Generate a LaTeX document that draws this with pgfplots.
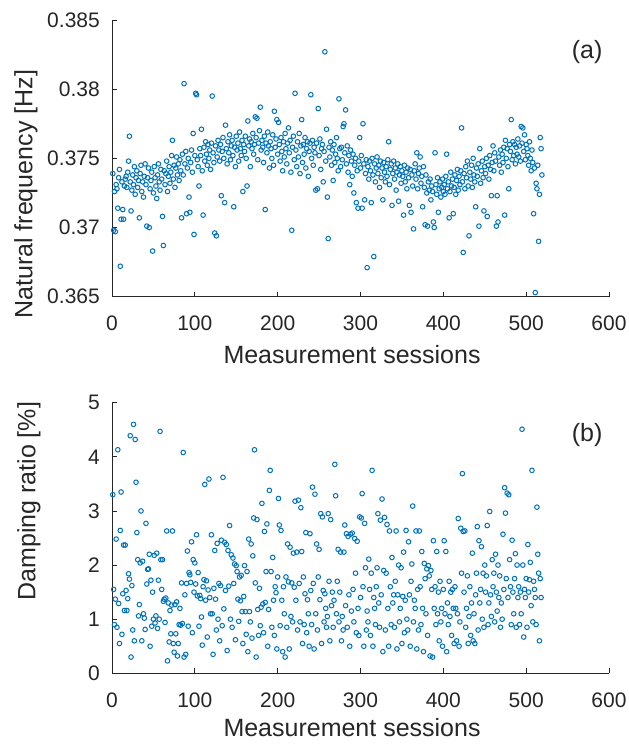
\documentclass[border=0pt]{standalone}
\usepackage{pgfplots}
\pgfplotsset{compat=1.18}
\usepackage{fontspec}
\setmainfont{Liberation Sans}
\definecolor{mblue}{rgb}{0,0.447,0.741}
\definecolor{axgray}{rgb}{0.15,0.15,0.15}
\pgfplotsset{
  mystyle/.style={
    scale only axis,
    width=497bp,
    axis x line*=bottom, axis y line*=left,
    axis line style={-, axgray, line width=0.8bp},
    tick style={axgray, line width=0.8bp},
    tick align=inside,
    major tick length=5bp,
    xmin=0, xmax=600, xtick={0,100,200,300,400,500,600},
    /pgf/number format/assume math mode=true,
    tick label style={font=\fontsize{21bp}{24bp}\selectfont, text=axgray},
    label style={font=\fontsize{25bp}{28bp}\selectfont, text=axgray},
    xticklabel style={anchor=base, inner sep=0pt, yshift=-34bp},
    yticklabel style={anchor=east, inner sep=0pt, xshift=-12bp},
    scaled y ticks=false,
    clip=false,
  },
  mymarks/.style={only marks, mark=o, mark size=2.3bp, mark options={line width=1bp, draw=mblue}, draw=mblue},
}
\begin{document}
\begin{tikzpicture}
\useasboundingbox (0bp,0bp) rectangle (629bp,744bp);
% ---------- (a) natural frequency ----------
\begin{axis}[mystyle,
  at={(112bp,447.3bp)}, anchor=south west, height=276.7bp,
  ymin=0.365, ymax=0.385,
  ytick={0.365,0.37,0.375,0.38,0.385},
  yticklabels={0.365,0.37,0.375,0.38,0.385},
  xlabel={Measurement sessions},
  ylabel={Natural frequency [Hz]},
  xlabel style={at={(axis description cs:0.483,0)}, anchor=base, yshift=-67bp},
  ylabel style={at={(axis description cs:-0.173,0.37)}, anchor=center, rotate=0},
]
\addplot[mymarks] table[x expr=\coordindex+1, y index=0, header=false, row sep=\\] {
0.3739\\ 0.3698\\ 0.3726\\ 0.3697\\ 0.3731\\ 0.3728\\ 0.3714\\ 0.3736\\ 0.3742\\ 0.3672\\
0.3706\\ 0.3733\\ 0.3713\\ 0.3706\\ 0.3730\\ 0.3735\\ 0.3737\\ 0.3729\\ 0.3740\\ 0.3748\\
0.3766\\ 0.3733\\ 0.3712\\ 0.3727\\ 0.3738\\ 0.3731\\ 0.3744\\ 0.3724\\ 0.3736\\ 0.3741\\
0.3729\\ 0.3734\\ 0.3707\\ 0.3739\\ 0.3745\\ 0.3726\\ 0.3733\\ 0.3722\\ 0.3737\\ 0.3746\\
0.3731\\ 0.3701\\ 0.3736\\ 0.3743\\ 0.3700\\ 0.3728\\ 0.3734\\ 0.3740\\ 0.3683\\ 0.3725\\
0.3744\\ 0.3736\\ 0.3730\\ 0.3721\\ 0.3738\\ 0.3746\\ 0.3733\\ 0.3727\\ 0.3742\\ 0.3735\\
0.3708\\ 0.3687\\ 0.3741\\ 0.3731\\ 0.3739\\ 0.3748\\ 0.3726\\ 0.3737\\ 0.3744\\ 0.3732\\
0.3740\\ 0.3752\\ 0.3763\\ 0.3735\\ 0.3745\\ 0.3729\\ 0.3743\\ 0.3751\\ 0.3738\\ 0.3746\\
0.3734\\ 0.3749\\ 0.3741\\ 0.3707\\ 0.3753\\ 0.3738\\ 0.3804\\ 0.3746\\ 0.3755\\ 0.3710\\
0.3743\\ 0.3750\\ 0.3722\\ 0.3711\\ 0.3747\\ 0.3756\\ 0.3740\\ 0.3768\\ 0.3695\\ 0.3752\\
0.3797\\ 0.3796\\ 0.3749\\ 0.3744\\ 0.3730\\ 0.3757\\ 0.3752\\ 0.3771\\ 0.3741\\ 0.3709\\
0.3758\\ 0.3748\\ 0.3762\\ 0.3753\\ 0.3745\\ 0.3760\\ 0.3750\\ 0.3756\\ 0.3742\\ 0.3761\\
0.3795\\ 0.3754\\ 0.3747\\ 0.3696\\ 0.3759\\ 0.3694\\ 0.3751\\ 0.3763\\ 0.3756\\ 0.3748\\
0.3760\\ 0.3723\\ 0.3755\\ 0.3765\\ 0.3750\\ 0.3718\\ 0.3774\\ 0.3757\\ 0.3746\\ 0.3762\\
0.3754\\ 0.3767\\ 0.3749\\ 0.3759\\ 0.3763\\ 0.3752\\ 0.3715\\ 0.3758\\ 0.3744\\ 0.3766\\
0.3756\\ 0.3761\\ 0.3748\\ 0.3769\\ 0.3757\\ 0.3752\\ 0.3763\\ 0.3726\\ 0.3760\\ 0.3755\\
0.3766\\ 0.3750\\ 0.3730\\ 0.3777\\ 0.3759\\ 0.3764\\ 0.3744\\ 0.3762\\ 0.3757\\ 0.3768\\
0.3753\\ 0.3760\\ 0.3780\\ 0.3765\\ 0.3779\\ 0.3749\\ 0.3761\\ 0.3770\\ 0.3787\\ 0.3756\\
0.3763\\ 0.3758\\ 0.3747\\ 0.3766\\ 0.3713\\ 0.3761\\ 0.3754\\ 0.3769\\ 0.3759\\ 0.3743\\
0.3762\\ 0.3757\\ 0.3750\\ 0.3767\\ 0.3745\\ 0.3784\\ 0.3758\\ 0.3764\\ 0.3778\\ 0.3753\\
0.3776\\ 0.3760\\ 0.3748\\ 0.3765\\ 0.3755\\ 0.3741\\ 0.3762\\ 0.3751\\ 0.3768\\ 0.3757\\
0.3746\\ 0.3761\\ 0.3772\\ 0.3754\\ 0.3763\\ 0.3740\\ 0.3698\\ 0.3758\\ 0.3766\\ 0.3749\\
0.3797\\ 0.3756\\ 0.3744\\ 0.3762\\ 0.3751\\ 0.3768\\ 0.3739\\ 0.3759\\ 0.3778\\ 0.3747\\
0.3760\\ 0.3753\\ 0.3765\\ 0.3743\\ 0.3757\\ 0.3762\\ 0.3737\\ 0.3755\\ 0.3761\\ 0.3796\\
0.3750\\ 0.3763\\ 0.3745\\ 0.3758\\ 0.3754\\ 0.3727\\ 0.3761\\ 0.3728\\ 0.3786\\ 0.3752\\
0.3764\\ 0.3742\\ 0.3757\\ 0.3760\\ 0.3733\\ 0.3755\\ 0.3827\\ 0.3748\\ 0.3771\\ 0.3722\\
0.3692\\ 0.3758\\ 0.3751\\ 0.3762\\ 0.3745\\ 0.3756\\ 0.3734\\ 0.3760\\ 0.3747\\ 0.3753\\
0.3765\\ 0.3750\\ 0.3741\\ 0.3793\\ 0.3757\\ 0.3744\\ 0.3758\\ 0.3749\\ 0.3773\\ 0.3775\\
0.3754\\ 0.3785\\ 0.3746\\ 0.3759\\ 0.3740\\ 0.3752\\ 0.3731\\ 0.3756\\ 0.3748\\ 0.3737\\
0.3753\\ 0.3725\\ 0.3745\\ 0.3750\\ 0.3718\\ 0.3741\\ 0.3714\\ 0.3748\\ 0.3765\\ 0.3743\\
0.3752\\ 0.3714\\ 0.3775\\ 0.3746\\ 0.3720\\ 0.3739\\ 0.3749\\ 0.3671\\ 0.3744\\ 0.3735\\
0.3748\\ 0.3741\\ 0.3718\\ 0.3750\\ 0.3738\\ 0.3679\\ 0.3746\\ 0.3733\\ 0.3743\\ 0.3751\\
0.3739\\ 0.3745\\ 0.3729\\ 0.3748\\ 0.3736\\ 0.3743\\ 0.3720\\ 0.3747\\ 0.3740\\ 0.3733\\
0.3744\\ 0.3737\\ 0.3749\\ 0.3762\\ 0.3731\\ 0.3742\\ 0.3746\\ 0.3716\\ 0.3739\\ 0.3748\\
0.3735\\ 0.3743\\ 0.3727\\ 0.3740\\ 0.3746\\ 0.3719\\ 0.3738\\ 0.3744\\ 0.3732\\ 0.3741\\
0.3737\\ 0.3709\\ 0.3745\\ 0.3733\\ 0.3740\\ 0.3728\\ 0.3743\\ 0.3736\\ 0.3716\\ 0.3742\\
0.3711\\ 0.3738\\ 0.3730\\ 0.3699\\ 0.3741\\ 0.3746\\ 0.3735\\ 0.3754\\ 0.3728\\ 0.3739\\
0.3743\\ 0.3751\\ 0.3732\\ 0.3737\\ 0.3715\\ 0.3744\\ 0.3729\\ 0.3702\\ 0.3738\\ 0.3725\\
0.3701\\ 0.3733\\ 0.3727\\ 0.3735\\ 0.3720\\ 0.3730\\ 0.3726\\ 0.3704\\ 0.3700\\ 0.3754\\
0.3731\\ 0.3724\\ 0.3736\\ 0.3711\\ 0.3728\\ 0.3733\\ 0.3722\\ 0.3729\\ 0.3735\\ 0.3726\\
0.3731\\ 0.3724\\ 0.3737\\ 0.3753\\ 0.3728\\ 0.3733\\ 0.3707\\ 0.3726\\ 0.3740\\ 0.3730\\
0.3735\\ 0.3710\\ 0.3729\\ 0.3738\\ 0.3724\\ 0.3734\\ 0.3742\\ 0.3727\\ 0.3737\\ 0.3731\\
0.3741\\ 0.3772\\ 0.3733\\ 0.3682\\ 0.3739\\ 0.3728\\ 0.3744\\ 0.3736\\ 0.3748\\ 0.3730\\
0.3694\\ 0.3740\\ 0.3735\\ 0.3745\\ 0.3729\\ 0.3750\\ 0.3738\\ 0.3733\\ 0.3715\\ 0.3743\\
0.3737\\ 0.3746\\ 0.3701\\ 0.3757\\ 0.3732\\ 0.3741\\ 0.3748\\ 0.3736\\ 0.3712\\ 0.3744\\
0.3739\\ 0.3750\\ 0.3708\\ 0.3745\\ 0.3735\\ 0.3752\\ 0.3742\\ 0.3723\\ 0.3747\\ 0.3759\\
0.3741\\ 0.3754\\ 0.3748\\ 0.3701\\ 0.3723\\ 0.3704\\ 0.3751\\ 0.3745\\ 0.3756\\ 0.3740\\
0.3753\\ 0.3747\\ 0.3758\\ 0.3709\\ 0.3763\\ 0.3750\\ 0.3757\\ 0.3744\\ 0.3728\\ 0.3760\\
0.3755\\ 0.3778\\ 0.3749\\ 0.3762\\ 0.3752\\ 0.3760\\ 0.3746\\ 0.3758\\ 0.3753\\ 0.3764\\
0.3751\\ 0.3759\\ 0.3748\\ 0.3773\\ 0.3761\\ 0.3772\\ 0.3755\\ 0.3767\\ 0.3749\\ 0.3760\\
0.3757\\ 0.3752\\ 0.3745\\ 0.3762\\ 0.3750\\ 0.3741\\ 0.3756\\ 0.3747\\ 0.3710\\ 0.3743\\
0.3653\\ 0.3732\\ 0.3728\\ 0.3745\\ 0.3690\\ 0.3724\\ 0.3765\\ 0.3757\\ 0.3738\\
};
\node[font=\fontsize{25bp}{28bp}\selectfont, text=axgray] at (axis description cs:0.956,0.884) {(a)};
\end{axis}
% ---------- (b) damping ratio ----------
\begin{axis}[mystyle,
  at={(112bp,70.7bp)}, anchor=south west, height=270.6bp,
  ymin=0, ymax=5,
  ytick={0,1,2,3,4,5},
  xlabel={Measurement sessions},
  ylabel={Damping ratio [\%]},
  xlabel style={at={(axis description cs:0.483,0)}, anchor=base, yshift=-63bp},
  ylabel style={at={(axis description cs:-0.167,0.636)}, anchor=center, rotate=0},
]
\addplot[mymarks] table[x expr=\coordindex+1, y index=0, header=false, row sep=\\] {
3.30\\ 1.55\\ 0.90\\ 1.37\\ 2.48\\ 0.85\\ 4.13\\ 1.29\\ 0.55\\ 2.64\\
3.35\\ 0.72\\ 1.47\\ 2.37\\ 1.16\\ 2.37\\ 1.53\\ 1.16\\ 1.38\\ 1.84\\
1.74\\ 4.39\\ 0.30\\ 1.62\\ 0.80\\ 4.60\\ 0.60\\ 4.32\\ 3.53\\ 2.60\\
2.10\\ 1.06\\ 1.27\\ 2.04\\ 3.00\\ 0.60\\ 2.07\\ 1.10\\ 1.02\\ 0.81\\
2.77\\ 1.65\\ 1.92\\ 1.93\\ 2.20\\ 0.50\\ 1.72\\ 0.87\\ 1.50\\ 1.00\\
2.18\\ 0.93\\ 1.06\\ 2.22\\ 0.83\\ 1.72\\ 1.00\\ 4.47\\ 2.10\\ 1.55\\
2.10\\ 1.33\\ 1.37\\ 0.94\\ 1.39\\ 2.63\\ 0.23\\ 1.30\\ 0.58\\ 1.16\\
0.73\\ 1.26\\ 2.63\\ 0.55\\ 0.39\\ 1.27\\ 0.73\\ 1.32\\ 0.32\\ 0.55\\
0.90\\ 1.20\\ 0.89\\ 1.67\\ 0.92\\ 4.08\\ 0.30\\ 1.45\\ 0.35\\ 1.66\\
2.26\\ 0.87\\ 1.86\\ 1.82\\ 1.68\\ 2.43\\ 0.75\\ 2.10\\ 1.50\\ 2.04\\
1.65\\ 2.56\\ 1.43\\ 1.86\\ 0.87\\ 1.44\\ 1.38\\ 1.04\\ 0.52\\ 1.60\\
1.73\\ 3.49\\ 1.35\\ 1.71\\ 0.67\\ 1.54\\ 3.59\\ 1.40\\ 1.10\\ 2.56\\
1.10\\ 0.35\\ 1.57\\ 2.27\\ 1.37\\ 0.80\\ 2.40\\ 1.00\\ 1.66\\ 0.60\\
1.62\\ 2.46\\ 0.88\\ 3.62\\ 1.19\\ 2.42\\ 1.53\\ 2.38\\ 0.42\\ 2.27\\
1.61\\ 2.73\\ 1.00\\ 2.19\\ 0.85\\ 2.13\\ 1.66\\ 2.02\\ 0.62\\ 1.99\\
1.88\\ 1.37\\ 0.96\\ 1.78\\ 1.34\\ 1.81\\ 1.14\\ 0.55\\ 1.42\\ 1.99\\
1.14\\ 0.72\\ 1.88\\ 0.40\\ 2.48\\ 1.14\\ 0.95\\ 2.39\\ 0.65\\ 2.17\\
2.87\\ 4.13\\ 1.67\\ 0.30\\ 2.84\\ 1.18\\ 0.70\\ 1.57\\ 0.88\\ 1.22\\
3.14\\ 1.28\\ 0.75\\ 2.62\\ 1.31\\ 1.88\\ 2.76\\ 0.50\\ 1.18\\ 3.38\\
3.75\\ 1.88\\ 0.85\\ 2.14\\ 1.35\\ 0.70\\ 1.60\\ 1.49\\ 0.45\\ 1.78\\
3.23\\ 2.74\\ 0.88\\ 2.64\\ 1.35\\ 0.40\\ 1.60\\ 1.10\\ 0.30\\ 1.78\\
0.85\\ 2.39\\ 1.69\\ 0.45\\ 2.33\\ 1.05\\ 1.67\\ 0.95\\ 2.22\\ 1.59\\
3.18\\ 1.35\\ 2.24\\ 0.80\\ 3.20\\ 1.66\\ 0.95\\ 3.06\\ 2.25\\ 0.55\\
1.78\\ 0.90\\ 1.47\\ 2.60\\ 0.75\\ 1.36\\ 1.10\\ 0.50\\ 2.58\\ 1.53\\
0.90\\ 3.44\\ 1.66\\ 0.45\\ 3.31\\ 1.10\\ 2.39\\ 0.80\\ 1.78\\ 2.29\\
1.36\\ 2.95\\ 0.55\\ 2.89\\ 1.53\\ 0.95\\ 1.47\\ 1.20\\ 0.85\\ 1.05\\
2.95\\ 1.70\\ 0.60\\ 2.84\\ 1.25\\ 1.50\\ 0.85\\ 1.35\\ 3.86\\ 3.28\\
1.10\\ 1.70\\ 2.29\\ 0.95\\ 1.50\\ 2.24\\ 0.60\\ 1.05\\ 0.80\\ 2.24\\
2.74\\ 1.25\\ 2.58\\ 0.85\\ 2.53\\ 1.45\\ 0.50\\ 2.57\\ 1.15\\ 2.59\\
1.55\\ 0.95\\ 2.49\\ 1.85\\ 0.75\\ 2.44\\ 1.20\\ 0.70\\ 2.89\\ 1.40\\
2.87\\ 3.32\\ 1.60\\ 0.50\\ 2.77\\ 1.95\\ 0.80\\ 1.15\\ 0.95\\ 2.11\\
1.55\\ 0.70\\ 1.85\\ 3.75\\ 0.50\\ 1.40\\ 1.20\\ 0.90\\ 1.60\\ 1.95\\
2.95\\ 1.30\\ 0.85\\ 2.83\\ 1.45\\ 3.22\\ 0.40\\ 1.90\\ 2.88\\ 0.80\\
1.85\\ 2.75\\ 1.20\\ 0.50\\ 2.63\\ 1.60\\ 0.90\\ 2.14\\ 1.30\\ 1.45\\
0.85\\ 1.70\\ 2.63\\ 0.45\\ 1.45\\ 2.00\\ 0.95\\ 1.20\\ 1.95\\ 0.55\\
1.42\\ 2.24\\ 0.75\\ 1.35\\ 2.64\\ 1.00\\ 0.80\\ 2.43\\ 1.45\\ 0.50\\
1.70\\ 2.02\\ 3.09\\ 0.95\\ 1.35\\ 1.20\\ 2.63\\ 0.45\\ 1.55\\ 0.80\\
2.63\\ 1.60\\ 0.90\\ 2.25\\ 1.20\\ 0.40\\ 2.03\\ 1.75\\ 1.10\\ 1.93\\
0.70\\ 1.99\\ 1.80\\ 0.32\\ 1.90\\ 1.55\\ 0.30\\ 2.45\\ 1.20\\ 1.60\\
0.90\\ 2.25\\ 1.10\\ 1.50\\ 0.60\\ 1.70\\ 0.95\\ 1.20\\ 0.50\\ 1.55\\
2.45\\ 1.10\\ 2.25\\ 0.40\\ 1.30\\ 0.90\\ 1.70\\ 1.05\\ 1.50\\ 0.70\\
1.55\\ 1.20\\ 0.55\\ 1.60\\ 1.20\\ 0.60\\ 1.10\\ 2.86\\ 0.50\\ 0.95\\
2.68\\ 1.85\\ 3.69\\ 2.62\\ 1.50\\ 2.63\\ 0.85\\ 1.20\\ 1.80\\ 0.55\\
1.05\\ 1.60\\ 0.70\\ 1.30\\ 2.22\\ 0.60\\ 1.10\\ 0.55\\ 1.45\\ 1.85\\
2.71\\ 0.80\\ 2.45\\ 1.30\\ 1.55\\ 2.34\\ 1.00\\ 1.85\\ 0.85\\ 2.00\\
1.50\\ 1.80\\ 2.73\\ 0.90\\ 1.30\\ 2.99\\ 1.45\\ 1.05\\ 2.10\\ 1.60\\
1.85\\ 0.95\\ 2.20\\ 1.50\\ 1.15\\ 2.00\\ 1.40\\ 1.80\\ 0.85\\ 1.30\\
1.00\\ 2.57\\ 1.55\\ 3.43\\ 2.96\\ 1.75\\ 3.33\\ 1.40\\ 3.30\\ 2.10\\
1.60\\ 0.90\\ 2.46\\ 1.50\\ 1.10\\ 1.75\\ 2.21\\ 0.85\\ 2.00\\ 1.40\\
1.60\\ 0.90\\ 1.50\\ 1.10\\ 4.51\\ 2.00\\ 0.67\\ 1.55\\ 1.40\\ 1.75\\
0.85\\ 2.38\\ 1.50\\ 1.73\\ 2.05\\ 1.25\\ 3.75\\ 0.95\\ 1.70\\ 1.55\\
1.40\\ 0.90\\ 3.07\\ 2.20\\ 1.85\\ 0.60\\ 1.75\\ 1.40\\
};
\node[font=\fontsize{25bp}{28bp}\selectfont, text=axgray] at (axis description cs:0.956,0.88) {(b)};
\end{axis}
\end{tikzpicture}
\end{document}
